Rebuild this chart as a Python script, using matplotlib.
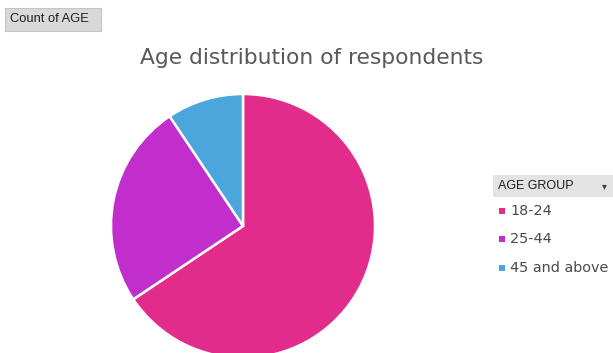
import matplotlib.pyplot as plt
from matplotlib.patches import Rectangle

# Data
groups = ["18-24", "25-44", "45 and above"]
counts = [21, 8, 3]
colors = ["#E22C8B", "#C22ECB", "#4BA6DB"]

W, H = 613, 353
fig = plt.figure(figsize=(W / 100, H / 100), dpi=100)
fig.patch.set_facecolor("white")

# Pie axes: centre at (243, 226) px, radius 132 px
cx, cy, r, half = 243, 226, 132, 140
ax = fig.add_axes([(cx - half) / W, (H - cy - half) / H, 2 * half / W, 2 * half / H])
ax.pie(counts, colors=colors, startangle=90, counterclock=False, radius=r,
       wedgeprops=dict(edgecolor="white", linewidth=1.8))
ax.set_xlim(-half, half)
ax.set_ylim(-half, half)
ax.set_axis_off()

# Title
fig.text(312 / W, 1 - 58 / H, "Age distribution of respondents", ha="center", va="center",
         fontsize=15.7, color="#595959")

# "Count of AGE" field button
fig.patches.append(Rectangle((5 / W, 1 - 31 / H), 96 / W, 23 / H, transform=fig.transFigure,
                             facecolor="#D9D9D9", edgecolor="#C4C4C4", linewidth=0.8))
fig.text(10 / W, 1 - 19.5 / H, "Count of AGE", ha="left", va="center", fontsize=9.3,
         color="#1F1F1F", fontfamily="Liberation Sans")

# Legend header button
fig.patches.append(Rectangle((493 / W, 1 - 197 / H), 120 / W, 22 / H, transform=fig.transFigure,
                             facecolor="#E3E3E3", edgecolor="none"))
fig.text(498 / W, 1 - 186 / H, "AGE GROUP", ha="left", va="center", fontsize=9,
         color="#1F1F1F", fontfamily="Liberation Sans")
fig.text(604 / W, 1 - 186 / H, "\u25BE", ha="center", va="center", fontsize=7, color="#404040")

# Legend entries
ys = [211, 239, 268]
for g, c, y in zip(groups, colors, ys):
    fig.patches.append(Rectangle((499 / W, 1 - (y + 3) / H), 6 / W, 6 / H,
                                 transform=fig.transFigure, facecolor=c, edgecolor="none"))
    fig.text(510 / W, 1 - y / H, g, ha="left", va="center", fontsize=10.4, color="#4A4A4A")

fig.savefig("out.png", dpi=100)
